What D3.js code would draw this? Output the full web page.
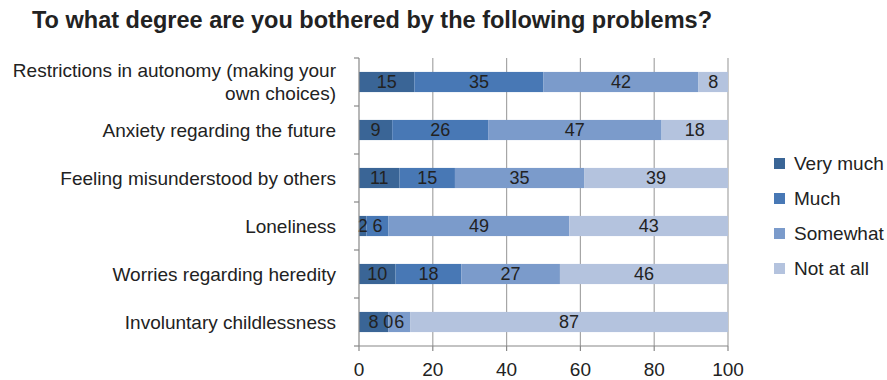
<!DOCTYPE html>
<html><head><meta charset="utf-8">
<script src="https://cdn.jsdelivr.net/npm/d3@7"></script>
<style>body{margin:0;background:#fff}svg{display:block;font-family:"Liberation Sans",Arial,sans-serif}</style>
</head><body><svg id="c" width="887" height="380"></svg>
<script>
const title = "To what degree are you bothered by the following problems?";
const categories = [
  ["Restrictions in autonomy (making your", "own choices)"],
  ["Anxiety regarding the future"],
  ["Feeling misunderstood by others"],
  ["Loneliness"],
  ["Worries regarding heredity"],
  ["Involuntary childlessness"]
];
const seriesNames = ["Very much", "Much", "Somewhat", "Not at all"];
const veryMuch  = [15, 9, 11, 2, 10, 8];
const much      = [35, 26, 15, 6, 18, 0];
const somewhat  = [42, 47, 35, 49, 27, 6];
const notAtAll  = [8, 18, 39, 43, 46, 87];
const colors = ["#3a6596", "#4878b5", "#7b9bcb", "#b4c3de"];
const xTicks = [0, 20, 40, 60, 80, 100];

const svg = d3.select("#c");
const m = {left: 359, right: 728, top: 58, bottom: 346};
const rows = categories.map((c, i) => ({i, "Very much": veryMuch[i], "Much": much[i], "Somewhat": somewhat[i], "Not at all": notAtAll[i]}));
const stack = d3.stack().keys(seriesNames).offset(d3.stackOffsetExpand)(rows);

const x = d3.scaleLinear().domain([0, 100]).range([m.left, m.right]);
const y = d3.scaleBand().domain(d3.range(categories.length)).range([m.top, m.bottom]).paddingInner(0.58).paddingOuter(0.29);
const band = d3.scaleBand().domain(d3.range(categories.length)).range([m.top, m.bottom]);

// title
svg.append("text").attr("x", 32).attr("y", 28)
  .attr("font-size", 23).attr("font-weight", "bold").attr("fill", "#222")
  .attr("textLength", 680).attr("lengthAdjust", "spacingAndGlyphs").text(title);

// gridlines
svg.append("g").selectAll("line").data(xTicks.slice(1)).join("line")
  .attr("x1", d => x(d)).attr("x2", d => x(d)).attr("y1", m.top).attr("y2", m.bottom)
  .attr("stroke", "#a6a6a6").attr("stroke-width", 1.2);

// bars
const g = svg.append("g");
stack.forEach((s, si) => {
  g.append("g").attr("fill", colors[si]).selectAll("rect").data(s).join("rect")
    .attr("x", d => x(d[0] * 100)).attr("width", d => x(d[1] * 100) - x(d[0] * 100))
    .attr("y", (d, i) => y(i)).attr("height", y.bandwidth());
});
// labels
stack.forEach((s, si) => {
  g.append("g").selectAll("text").data(s).join("text")
    .attr("x", d => x((d[0] + d[1]) / 2 * 100)).attr("y", (d, i) => y(i) + y.bandwidth() / 2)
    .attr("dy", "0.36em").attr("text-anchor", "middle").attr("font-size", 18).attr("fill", "#222")
    .text(d => d.data[seriesNames[si]]);
});

// y axis
const ya = svg.append("g");
ya.append("line").attr("x1", m.left).attr("x2", m.left).attr("y1", m.top).attr("y2", m.bottom).attr("stroke", "#888").attr("stroke-width", 1.2);
ya.selectAll("line.t").data(d3.range(categories.length + 1)).join("line").attr("class", "t")
  .attr("x1", m.left - 5).attr("x2", m.left).attr("y1", d => m.top + d * band.step()).attr("y2", d => m.top + d * band.step())
  .attr("stroke", "#888").attr("stroke-width", 1.2);
categories.forEach((lines, i) => {
  const cy = band(i) + band.bandwidth() / 2;
  const lh = 23;
  const t = ya.append("text").attr("text-anchor", "end").attr("font-size", 19).attr("fill", "#222");
  lines.forEach((ln, j) => {
    t.append("tspan").attr("x", 336).attr("y", cy + (j - (lines.length - 1) / 2) * lh).attr("dy", "0.36em").text(ln);
  });
});

// x axis
const xa = svg.append("g");
xa.append("line").attr("x1", m.left).attr("x2", m.right).attr("y1", m.bottom).attr("y2", m.bottom).attr("stroke", "#888").attr("stroke-width", 1.2);
xa.selectAll("line.t").data(xTicks).join("line").attr("class", "t")
  .attr("x1", d => x(d)).attr("x2", d => x(d)).attr("y1", m.bottom).attr("y2", m.bottom + 5)
  .attr("stroke", "#888").attr("stroke-width", 1.2);
xa.selectAll("text").data(xTicks).join("text")
  .attr("x", d => x(d)).attr("y", 376).attr("text-anchor", "middle").attr("font-size", 19).attr("fill", "#222").text(d => d);

// legend
const lg = svg.append("g");
seriesNames.forEach((n, i) => {
  const ly = 163 + i * 35;
  lg.append("rect").attr("x", 774).attr("y", ly - 5).attr("width", 11).attr("height", 11).attr("fill", colors[i]);
  lg.append("text").attr("x", 794).attr("y", ly).attr("dy", "0.36em").attr("font-size", 19).attr("fill", "#222").text(n);
});
</script></body></html>
